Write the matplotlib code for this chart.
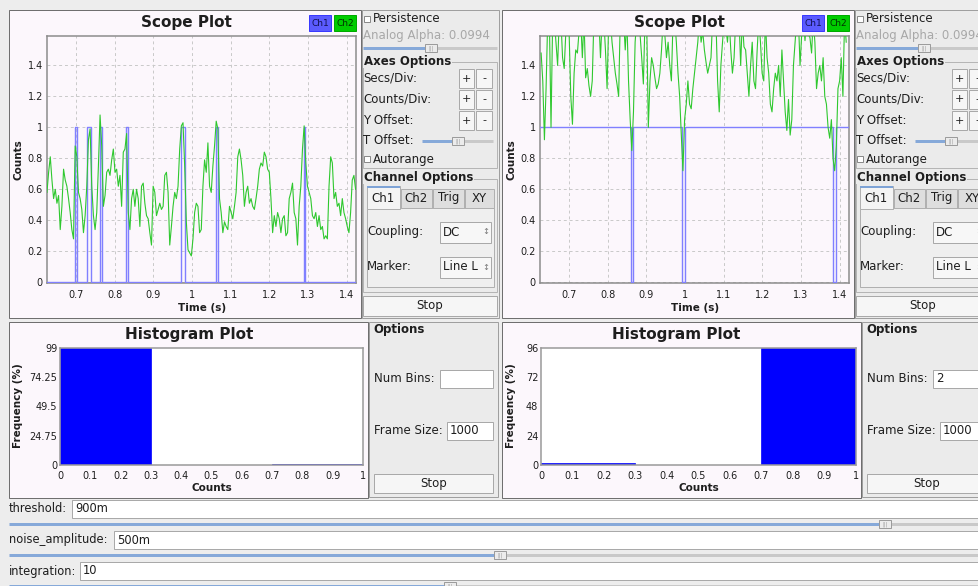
import numpy as np
import matplotlib
matplotlib.use("Agg")
import matplotlib.pyplot as plt
from matplotlib.patches import Rectangle
from matplotlib.ticker import FuncFormatter

plt.rcParams['font.family'] = ['DejaVu Sans']

# ---- data ----
# Ch2 (green) samples, left scope, evenly spaced in time
left_t_range = (0.6244, 1.4234)
left_ch2 = [
    0.58, 0.71, 0.81, 0.66, 0.54, 0.60, 0.51, 0.56, 0.34, 0.49,
    0.73, 0.66, 0.62, 0.54, 0.45, 0.34, 0.28, 0.88, 0.81, 0.58,
    0.54, 0.47, 0.32, 0.43, 0.62, 0.92, 0.99, 0.62, 0.43, 0.34,
    0.45, 0.75, 1.08, 0.88, 0.49, 0.56, 0.71, 0.73, 0.69, 0.79,
    0.86, 0.71, 0.73, 0.62, 0.69, 0.49, 0.84, 0.86, 0.96, 0.45,
    0.34, 0.54, 0.60, 0.49, 0.60, 0.54, 0.36, 0.62, 0.64, 0.51,
    0.43, 0.41, 0.32, 0.24, 0.62, 0.58, 0.43, 0.47, 0.51, 0.47,
    0.49, 0.69, 0.71, 0.58, 0.24, 0.36, 0.49, 0.58, 0.54, 0.62,
    0.86, 1.01, 1.03, 0.75, 0.39, 0.21, 0.19, 0.17, 0.28, 0.45,
    0.51, 0.49, 0.32, 0.34, 0.62, 0.79, 0.71, 0.90, 0.62, 0.58,
    0.75, 0.88, 1.04, 0.99, 0.54, 0.45, 0.32, 0.39, 0.36, 0.34,
    0.49, 0.45, 0.41, 0.49, 0.58, 0.81, 0.86, 0.79, 0.69, 0.49,
    0.58, 0.62, 0.51, 0.54, 0.49, 0.47, 0.54, 0.62, 0.73, 0.77,
    0.75, 0.84, 0.81, 0.73, 0.71, 0.54, 0.32, 0.43, 0.36, 0.45,
    0.41, 0.32, 0.41, 0.43, 0.30, 0.32, 0.54, 0.58, 0.64, 0.45,
    0.41, 0.24, 0.49, 0.62, 0.86, 1.01, 0.77, 0.62, 0.58, 0.54,
    0.43, 0.41, 0.45, 0.36, 0.43, 0.34, 0.36, 0.28, 0.30, 0.28,
    0.62, 0.81, 0.77, 0.54, 0.58, 0.49, 0.51, 0.43, 0.54, 0.45,
    0.41, 0.36, 0.32, 0.45, 0.66, 0.69, 0.60]
# Ch1 (blue) toggles between 0 and 1 at these times
left_ch1_base = 0
left_ch1_edges = [0.697, 0.701, 0.729, 0.739, 0.762, 0.768, 0.829, 0.833,
                  0.972, 0.981, 1.061, 1.068, 1.290, 1.293]

right_t_range = (0.6274, 1.4173)
right_ch2 = [
    1.48, 1.30, 0.92, 1.25, 1.70, 1.70, 1.00, 1.70, 1.70, 1.55,
    1.40, 1.70, 1.70, 1.45, 1.38, 1.62, 1.70, 1.60, 1.20, 1.02,
    1.35, 1.50, 1.48, 1.62, 1.70, 1.45, 1.70, 1.32, 1.38, 1.27,
    1.20, 1.30, 1.70, 1.70, 1.60, 1.70, 1.45, 1.70, 1.70, 1.50,
    1.25, 1.70, 1.70, 1.55, 1.45, 1.35, 1.28, 1.20, 1.70, 1.60,
    1.70, 1.50, 1.70, 1.30, 1.05, 0.85, 1.10, 1.55, 1.70, 1.70,
    1.60, 1.45, 1.28, 1.70, 1.70, 1.00, 1.30, 1.45, 1.40, 1.32,
    1.25, 1.28, 1.35, 1.50, 1.70, 1.60, 1.45, 1.55, 1.40, 1.30,
    1.70, 1.70, 1.55, 1.35, 1.20, 0.95, 0.72, 1.05, 1.15, 1.30,
    1.15, 1.12, 1.25, 1.35, 1.45, 1.55, 1.70, 1.55, 1.62, 1.50,
    1.42, 1.35, 1.40, 1.45, 1.70, 1.70, 1.70, 1.30, 1.10, 1.40,
    1.55, 1.70, 1.65, 1.55, 1.70, 1.50, 1.35, 1.45, 1.70, 1.60,
    1.70, 1.40, 1.70, 1.52, 1.50, 1.35, 1.20, 1.40, 1.55, 1.30,
    1.25, 1.50, 1.70, 1.55, 1.35, 1.30, 1.70, 1.45, 1.35, 1.15,
    1.10, 1.25, 1.35, 1.30, 1.40, 1.20, 1.50, 1.30, 1.10, 0.98,
    1.18, 0.95, 1.05, 1.40, 1.55, 1.70, 1.70, 1.40, 1.60, 1.70,
    1.56, 1.70, 1.60, 1.58, 1.48, 1.70, 1.55, 1.25, 1.35, 1.40,
    1.30, 1.45, 1.20, 1.15, 1.00, 0.93, 1.05, 0.80, 0.72, 0.88,
    1.25, 1.30, 1.45, 1.20, 1.70, 1.55]
right_ch1_base = 1
right_ch1_edges = [0.861, 0.864, 0.991, 0.999, 1.382, 1.392]

scope_xticks = [0.7, 0.8, 0.9, 1.0, 1.1, 1.2, 1.3, 1.4]
scope_yticks = [0, 0.2, 0.4, 0.6, 0.8, 1.0, 1.2, 1.4]

hist_left_starts = [0.0, 0.7]
hist_left_freq = [99, 1]
hist_left_yticks = [0, 24.75, 49.5, 74.25, 99]
hist_right_starts = [0.0, 0.7]
hist_right_freq = [2, 96]
hist_right_yticks = [0, 24, 48, 72, 96]
hist_bin_width = 0.3
hist_xticks = [0, 0.1, 0.2, 0.3, 0.4, 0.5, 0.6, 0.7, 0.8, 0.9, 1.0]

slider_names = ["threshold:", "noise_amplitude:", "integration:"]
slider_values = ["900m", "500m", "10"]

# ---- figure ----
W, H = 979, 586
fig = plt.figure(figsize=(W / 100, H / 100), dpi=100)
fig.patch.set_facecolor('#ededed')

bg = fig.add_axes([0, 0, 1, 1], zorder=0)
bg.set_xlim(0, W)
bg.set_ylim(H, 0)
bg.axis('off')

PLOT_BG = '#fcf7fc'
PANEL = '#ebebeb'
TXT = '#1e1e1e'


def px(v):
    return v * 0.72


def rect(x0, y0, x1, y1, fc, ec='none', lw=1.0, z=1):
    bg.add_patch(Rectangle((x0, y0), x1 - x0, y1 - y0, facecolor=fc,
                           edgecolor=ec, lw=px(lw), zorder=z))


def label(x, y, s, size=8.5, ha='left', **kw):
    kw.setdefault('color', TXT)
    bg.text(x, y, s, fontsize=size, ha=ha, va='center', zorder=5, **kw)


def button(x0, y0, x1, y1, s, size=8.5):
    rect(x0, y0, x1, y1, '#f6f6f6', '#a9a9a9', 1, z=2)
    label((x0 + x1) / 2, (y0 + y1) / 2, s, size=size, ha='center')


def slider(x0, x1, y, hx):
    bg.plot([x0, hx], [y, y], color='#86a9d9', lw=px(3), solid_capstyle='butt', zorder=2)
    bg.plot([hx, x1], [y, y], color='#c9c9c9', lw=px(3), solid_capstyle='butt', zorder=2)
    rect(hx - 6, y - 4, hx + 6, y + 4, '#ececec', '#9c9c9c', 1, z=3)
    label(hx, y, '|||', size=3.5, ha='center', color='#999999')


def checkbox(x, y):
    rect(x, y - 3, x + 6, y + 3, 'white', '#8a8a8a', 1, z=3)


def axes_px(x0, y0, x1, y1):
    return fig.add_axes([x0 / W, 1 - y1 / H, (x1 - x0) / W, (y1 - y0) / H], zorder=2)


def pulse_trace(t0, t1, base, edges):
    xs, ys = [t0], [base]
    cur = base
    for e in edges:
        xs += [e, e]
        ys += [cur, 1 - cur]
        cur = 1 - cur
    xs.append(t1)
    ys.append(cur)
    return xs, ys


gfmt = FuncFormatter(lambda v, p: '%g' % round(v, 4))


def scope(x0, panel_x0, t_range, ch2, base, edges):
    # panel frame
    rect(panel_x0, 10, panel_x0 + 352, 318, PLOT_BG, '#6f6f6f', 1)
    cx = panel_x0 + 177
    label(cx, 23, 'Scope Plot', size=11, ha='center', fontweight='bold')
    rect(panel_x0 + 300, 15, panel_x0 + 322, 31, '#5b5bff', '#3a3aff', 1, z=3)
    label(panel_x0 + 311, 23, 'Ch1', size=6.5, ha='center', color='#101050')
    rect(panel_x0 + 325, 15, panel_x0 + 347, 31, '#00cc00', '#00aa00', 1, z=3)
    label(panel_x0 + 336, 23, 'Ch2', size=6.5, ha='center', color='#003300')
    label(panel_x0 + 10, 160, 'Counts', size=7.5, ha='center', rotation=90, fontweight='bold')

    ax = axes_px(x0, 36, x0 + 309, 283)
    ax.set_facecolor(PLOT_BG)
    t = np.linspace(t_range[0], t_range[1], len(ch2))
    bx, by = pulse_trace(0.62, 1.43, base, edges)
    ax.plot(bx, by, color='#8080ff', lw=1.0, zorder=3)
    ax.plot(t, ch2, color='#2fc82f', lw=0.8, zorder=4)
    ax.set_xlim(0.6245, 1.4245)
    ax.set_ylim(-0.005, 1.59)
    ax.set_xticks(scope_xticks)
    ax.set_yticks(scope_yticks)
    ax.xaxis.set_major_formatter(gfmt)
    ax.yaxis.set_major_formatter(gfmt)
    ax.tick_params(length=0, labelsize=7, colors=TXT, pad=3)
    ax.tick_params(axis='x', pad=5)
    ax.grid(True, color='#c9c9c9', lw=0.7, linestyle=(0, (3, 3)))
    for s in ax.spines.values():
        s.set_color('#8c8c8c')
        s.set_linewidth(1.1)
    label(x0 + 155, 308, 'Time (s)', size=7.5, ha='center', fontweight='bold')
    return ax


def scope_controls(x0):
    rect(x0, 10, x0 + 137, 318, PANEL, '#9f9f9f', 1)
    checkbox(x0 + 2, 19)
    label(x0 + 11, 19, 'Persistence', size=8.5)
    label(x0 + 1, 35, 'Analog Alpha: 0.0994', size=8.5, color='#a8a8a8')
    slider(x0 + 1, x0 + 135, 48, x0 + 69)
    # axes options group
    rect(x0 + 1, 62, x0 + 135, 168, 'none', '#b5b5b5', 1)
    label(x0 + 2, 61, 'Axes Options', size=8.5, fontweight='bold',
          bbox=dict(fc=PANEL, ec='none', pad=0.5))
    for name, y in [('Secs/Div:', 78), ('Counts/Div:', 99), ('Y Offset:', 120)]:
        label(x0 + 1, y, name, size=8.5)
        button(x0 + 97, y - 9, x0 + 112, y + 10, '+', 8)
        button(x0 + 114, y - 9, x0 + 130, y + 10, '-', 8)
    label(x0 + 1, 141, 'T Offset:', size=8.5)
    slider(x0 + 60, x0 + 131, 141, x0 + 96)
    checkbox(x0 + 2, 159)
    label(x0 + 11, 159, 'Autorange', size=8.5)
    # channel options group
    rect(x0 + 1, 179, x0 + 135, 292, 'none', '#b5b5b5', 1)
    label(x0 + 2, 177, 'Channel Options', size=8.5, fontweight='bold',
          bbox=dict(fc=PANEL, ec='none', pad=0.5))
    rect(x0 + 5, 208, x0 + 132, 287, '#efefef', '#b0b0b0', 1)
    tabs = [('Ch1', 5, 38), ('Ch2', 39, 70), ('Trig', 71, 102), ('XY', 103, 132)]
    for i, (name, a, b) in enumerate(tabs):
        if i == 0:
            rect(x0 + a, 186, x0 + b, 209, '#f4f4f4', '#b0b0b0', 1, z=2)
            bg.plot([x0 + a + 1, x0 + b - 1], [186.5, 186.5], color='#7ea3d6', lw=px(2), zorder=3)
        else:
            rect(x0 + a, 189, x0 + b, 208, '#dedede', '#b0b0b0', 1, z=2)
        label(x0 + (a + b) / 2, 198, name, size=8.5, ha='center')
    for name, val, y in [('Coupling:', 'DC', 232), ('Marker:', 'Line L', 267)]:
        label(x0 + 5, y, name, size=8.5)
        rect(x0 + 78, y - 10, x0 + 129, y + 11, '#f7f7f7', '#a9a9a9', 1, z=2)
        label(x0 + 81, y, val, size=8.5)
        label(x0 + 124, y, '\u2195', size=6, ha='center', color='#777777')
    button(x0 + 1, 296, x0 + 135, 316, 'Stop', 8.5)


def hist(panel_x0, ax_x0, ax_x1, starts, freq, yticks):
    rect(panel_x0, 322, panel_x0 + 359, 498, PLOT_BG, '#6f6f6f', 1)
    label((ax_x0 + ax_x1) / 2 - 22, 335, 'Histogram Plot', size=11, ha='center', fontweight='bold')
    ax = axes_px(ax_x0, 348, ax_x1, 465)
    ax.set_facecolor('white')
    ax.bar(starts, freq, width=hist_bin_width, align='edge', color='#0000ff',
           edgecolor='#0000ff', lw=0.5)
    ax.set_xlim(0, 1)
    ax.set_ylim(0, yticks[-1])
    ax.set_xticks(hist_xticks)
    ax.set_yticks(yticks)
    ax.xaxis.set_major_formatter(gfmt)
    ax.yaxis.set_major_formatter(gfmt)
    ax.tick_params(length=0, labelsize=7, colors=TXT, pad=2)
    ax.tick_params(axis='x', pad=4)
    for s in ax.spines.values():
        s.set_color('#9a9a9a')
        s.set_linewidth(1.1)
    label((ax_x0 + ax_x1) / 2, 488, 'Counts', size=7.5, ha='center', fontweight='bold')
    label(panel_x0 + 9, 406, 'Frequency (%)', size=7.5, ha='center', rotation=90, fontweight='bold')
    return ax


def hist_controls(x0, nbins):
    rect(x0, 322, x0 + 129, 497, PANEL, '#9f9f9f', 1)
    label(x0 + 4, 330, 'Options', size=8.5, fontweight='bold')
    label(x0 + 5, 378, 'Num Bins:', size=8.5)
    rect(x0 + 71, 370, x0 + 124, 388, 'white', '#a9a9a9', 1, z=2)
    label(x0 + 74, 379, nbins, size=8.5)
    label(x0 + 5, 431, 'Frame Size:', size=8.5)
    rect(x0 + 78, 422, x0 + 124, 440, 'white', '#a9a9a9', 1, z=2)
    label(x0 + 81, 431, '1000', size=8.5)
    button(x0 + 5, 474, x0 + 124, 493, 'Stop', 8.5)


scope(47, 9, left_t_range, left_ch2, left_ch1_base, left_ch1_edges)
scope_controls(362)
scope(540, 502, right_t_range, right_ch2, right_ch1_base, right_ch1_edges)
scope_controls(855)

hist(9, 60, 363, hist_left_starts, hist_left_freq, hist_left_yticks)
hist_controls(369, '')
hist(502, 541, 856, hist_right_starts, hist_right_freq, hist_right_yticks)
hist_controls(862, '2')

# bottom sliders
box_left = [72, 114, 80]
label_y = [509, 540, 571]
handle_x = [885, 500, 450]
for name, val, bx, ly, hx in zip(slider_names, slider_values, box_left, label_y, handle_x):
    label(9, ly, name, size=8.3)
    rect(bx, ly - 9, W + 5, ly + 9, 'white', '#a9a9a9', 1, z=2)
    label(bx + 3, ly, val, size=8.3)
    slider(9, W + 5, ly + 15, hx)

fig.savefig('out.png', dpi=100, facecolor=fig.get_facecolor())
